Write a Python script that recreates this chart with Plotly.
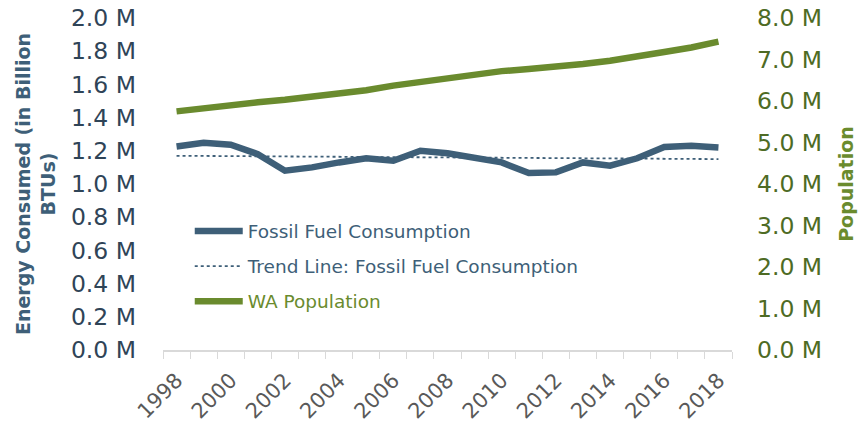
import plotly.graph_objects as go

years = list(range(1998, 2019))

# Fossil fuel consumption (left axis, millions)
fossil = [1.226, 1.248, 1.237, 1.18, 1.08, 1.10, 1.13, 1.155, 1.14, 1.20, 1.185,
          1.16, 1.13, 1.066, 1.07, 1.13, 1.11, 1.155, 1.223, 1.23, 1.22]

# Linear trend of fossil fuel consumption: end points
trend_years = [1998, 2018]
trend_vals = [1.17, 1.15]

# Washington state population (right axis, millions)
population = [5.75, 5.83, 5.90, 5.97, 6.03, 6.10, 6.17, 6.26, 6.37, 6.46, 6.56,
              6.66, 6.72, 6.77, 6.82, 6.89, 6.97, 7.06, 7.18, 7.29, 7.43]

left_ticks = [0.0, 0.2, 0.4, 0.6, 0.8, 1.0, 1.2, 1.4, 1.6, 1.8, 2.0]
right_ticks = [0, 1, 2, 3, 4, 5, 6, 7, 8]
x_labels = list(range(1998, 2019, 2))

BLUE = "#3E5F78"
GREEN = "#6A8B2E"
FONT = "DejaVu Sans"

fig = go.Figure()
fig.add_trace(go.Scatter(
    x=years, y=fossil, mode="lines", legendgroup="a",
    name=f"<span style='color:{BLUE}'>Fossil Fuel Consumption</span>",
    line=dict(color=BLUE, width=6.5),
))
fig.add_trace(go.Scatter(
    x=trend_years, y=trend_vals, mode="lines", legendgroup="b",
    name=f"<span style='color:{BLUE}'>Trend Line: Fossil Fuel Consumption</span>",
    line=dict(color=BLUE, width=1.8, dash="dot"),
))
fig.add_trace(go.Scatter(
    x=years, y=population, mode="lines", yaxis="y2", legendgroup="c",
    name=f"<span style='color:{GREEN}'>WA Population</span>",
    line=dict(color=GREEN, width=6.5),
))

fig.update_layout(
    width=860, height=427,
    margin=dict(l=163, r=128, t=18, b=77),
    paper_bgcolor="white", plot_bgcolor="white",
    font=dict(family=FONT, size=18, color=BLUE),
    showlegend=True,
    legend=dict(x=0.047, y=0.414, xanchor="left", yanchor="top",
                bgcolor="rgba(0,0,0,0)", font=dict(size=18.5, color=BLUE),
                traceorder="grouped", tracegroupgap=8, itemwidth=48),
    xaxis=dict(
        range=[1997.5, 2018.5], automargin=False,
        tickvals=x_labels, ticktext=[str(v) for v in x_labels],
        tickangle=-45, ticks="", showgrid=False, zeroline=False,
        showline=True, linecolor="#D9D9D9", linewidth=1.5,
        tickfont=dict(size=21, color="#595959"),
        ticklabelstandoff=8,
        minor=dict(ticks="outside", ticklen=7, tickcolor="#D9D9D9",
                   tick0=1997.5, dtick=1, showgrid=False),
    ),
    yaxis=dict(
        range=[0, 2.0], automargin=False, tickvals=left_ticks,
        ticktext=[f"{v:.1f} M" for v in left_ticks],
        showgrid=False, zeroline=False, showline=False,
        tickfont=dict(size=23.5, color="#2F4457"),
        ticklabelstandoff=26,
        title=dict(text="<b>Energy Consumed (in Billion<br>BTUs)</b>",
                   font=dict(size=19, color=BLUE), standoff=10),
    ),
    yaxis2=dict(
        range=[0, 8.0], automargin=False, tickvals=right_ticks,
        ticktext=[f"{v:.1f} M" for v in right_ticks],
        overlaying="y", side="right",
        showgrid=False, zeroline=False, showline=False,
        tickfont=dict(size=23.5, color="#4E6B24"),
        ticklabelstandoff=24,
        title=dict(text="<b>Population</b>",
                   font=dict(size=19, color=GREEN), standoff=18),
    ),
)

fig.write_html("out.html")
